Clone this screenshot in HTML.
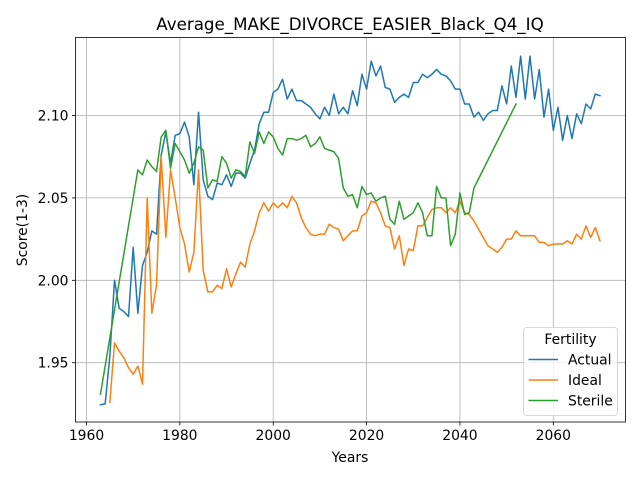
<!DOCTYPE html>
<html><head><meta charset="utf-8"><style>
body{margin:0;background:#fff}
svg{display:block;font-family:"DejaVu Sans","Liberation Sans",sans-serif}
</style></head><body>
<svg id="chart" width="640" height="480" viewBox="0 0 640 480">
<rect width="640" height="480" fill="#fff"/>
<g id="grid"></g><g id="series"></g><g id="axes"></g>
</svg>
<script>
const actualYears=[];for(let y=1963;y<=2070;y++)actualYears.push(y);
const actualValues=[1.9245,1.925,1.954,2.000,1.983,1.981,1.978,2.020,1.980,2.009,2.017,2.030,2.028,2.076,2.090,2.071,2.088,2.089,2.096,2.087,2.058,2.102,2.061,2.051,2.049,2.059,2.058,2.064,2.057,2.065,2.065,2.062,2.071,2.079,2.095,2.102,2.102,2.114,2.116,2.122,2.110,2.116,2.109,2.109,2.107,2.105,2.101,2.098,2.105,2.100,2.113,2.101,2.105,2.101,2.115,2.106,2.125,2.116,2.133,2.124,2.130,2.117,2.116,2.108,2.111,2.113,2.111,2.120,2.120,2.125,2.123,2.125,2.128,2.125,2.124,2.121,2.116,2.116,2.107,2.107,2.099,2.102,2.097,2.101,2.103,2.103,2.118,2.107,2.130,2.111,2.136,2.110,2.136,2.110,2.128,2.099,2.116,2.091,2.105,2.085,2.100,2.086,2.101,2.095,2.107,2.104,2.113,2.112];
const idealYears=[];for(let y=1965;y<=2070;y++)idealYears.push(y);
const idealValues=[1.926,1.962,1.957,1.953,1.947,1.943,1.948,1.937,2.050,1.980,1.997,2.075,2.026,2.067,2.050,2.032,2.022,2.005,2.017,2.067,2.006,1.993,1.993,1.997,1.995,2.007,1.996,2.004,2.011,2.008,2.022,2.030,2.041,2.047,2.042,2.047,2.044,2.047,2.044,2.051,2.047,2.038,2.032,2.028,2.027,2.028,2.028,2.034,2.032,2.031,2.024,2.027,2.030,2.030,2.039,2.041,2.048,2.047,2.041,2.033,2.032,2.019,2.027,2.009,2.019,2.018,2.033,2.033,2.038,2.043,2.044,2.044,2.041,2.044,2.041,2.048,2.041,2.040,2.036,2.031,2.026,2.021,2.019,2.017,2.020,2.025,2.025,2.030,2.027,2.027,2.027,2.027,2.023,2.023,2.021,2.022,2.022,2.022,2.024,2.022,2.028,2.025,2.033,2.026,2.032,2.024];
const sterileYears=[1963];for(let y=1971;y<=2043;y++)sterileYears.push(y);sterileYears.push(2052);
const sterileValues=[1.931,2.067,2.064,2.073,2.069,2.066,2.087,2.091,2.068,2.083,2.078,2.073,2.065,2.071,2.081,2.079,2.056,2.061,2.060,2.075,2.071,2.062,2.067,2.066,2.063,2.084,2.077,2.090,2.083,2.090,2.087,2.080,2.076,2.086,2.086,2.085,2.086,2.088,2.081,2.083,2.087,2.080,2.079,2.078,2.074,2.056,2.051,2.052,2.044,2.057,2.052,2.053,2.048,2.050,2.051,2.037,2.034,2.048,2.037,2.039,2.041,2.047,2.041,2.027,2.027,2.057,2.050,2.050,2.021,2.028,2.053,2.040,2.041,2.056,2.107];
const xTicks=[1960,1980,2000,2020,2040,2060];
const yTicks=[1.95,2.00,2.05,2.10];
const yTickLabels=["1.95","2.00","2.05","2.10"];

const L=75.5,R=625.5,T=37.5,B=422;
const X=v=>86.5+(v-1960)*4.668;
const Y=v=>115.5+(2.10-v)*1648;
const NS="http://www.w3.org/2000/svg";
function mk(tag,attrs,parent,text){const e=document.createElementNS(NS,tag);for(const k in attrs)e.setAttribute(k,attrs[k]);if(text!==undefined)e.textContent=text;parent.appendChild(e);return e;}
const grid=document.getElementById('grid'),ser=document.getElementById('series'),ax=document.getElementById('axes');
xTicks.forEach(t=>{
 const g=mk('line',{x1:X(t),x2:X(t),y1:T,y2:B,stroke:'#b0b0b0','stroke-width':0.8},grid);
 
 
 const tk=mk('line',{x1:X(t),x2:X(t),y1:B,y2:B+3.5,stroke:'#000','stroke-width':0.8},ax);
 
 
 const tl=mk('text',{x:X(t),y:B+18,'text-anchor':'middle','font-size':'13.9px',fill:'#000'},ax,String(t));
 
 
});
yTicks.forEach((t,i)=>{
 const g=mk('line',{x1:L,x2:R,y1:Y(t),y2:Y(t),stroke:'#b0b0b0','stroke-width':0.8},grid);
 
 
 const tk=mk('line',{x1:L-3.5,x2:L,y1:Y(t),y2:Y(t),stroke:'#000','stroke-width':0.8},ax);
 
 
 const tl=mk('text',{x:L-7,y:Y(t)+5,'text-anchor':'end','font-size':'13.9px',fill:'#000'},ax,yTickLabels[i]);
 
 
});
function line(xs,vs,color,name){
 const p=mk('polyline',{points:xs.map((x,i)=>X(x).toFixed(2)+','+Y(vs[i]).toFixed(2)).join(' '),fill:'none',stroke:color,'stroke-width':1.5,'stroke-linejoin':'round','stroke-linecap':'square'},ser);
 
 
}
line(actualYears,actualValues,'#1f77b4','actual-line');
line(idealYears,idealValues,'#ff7f0e','ideal-line');
line(sterileYears,sterileValues,'#2ca02c','sterile-line');
const frame=mk('rect',{x:L,y:T,width:R-L,height:B-T,fill:'none',stroke:'#000','stroke-width':0.8},ax);


const ti=mk('text',{x:350,y:30,'text-anchor':'middle','font-size':'16.7px',fill:'#000'},ax,'Average_MAKE_DIVORCE_EASIER_Black_Q4_IQ');


const xl=mk('text',{x:350,y:462,'text-anchor':'middle','font-size':'13.9px',fill:'#000'},ax,'Years');


const yl=mk('text',{x:0,y:0,'text-anchor':'middle','font-size':'13.9px',fill:'#000',transform:'translate(27,230) rotate(-90)'},ax,'Score(1-3)');


const lg=mk('g',{},ax);


mk('rect',{x:523.5,y:327.5,width:94,height:88,rx:3,fill:'#fff','fill-opacity':0.8,stroke:'#cccccc','stroke-width':0.8},lg);
const lt=mk('text',{x:570.5,y:344,'text-anchor':'middle','font-size':'13.9px',fill:'#000'},lg,'Fertility');


[['Actual','#1f77b4',359.5],['Ideal','#ff7f0e',380],['Sterile','#2ca02c',400.5]].forEach(([n,c,y])=>{
 const e=mk('g',{},lg);
 
 
 mk('line',{x1:528.5,x2:558,y1:y,y2:y,stroke:c,'stroke-width':1.5},e);
 mk('text',{x:568,y:y+5,'font-size':'13.9px',fill:'#000'},e,n);
});
</script>
</body></html>
